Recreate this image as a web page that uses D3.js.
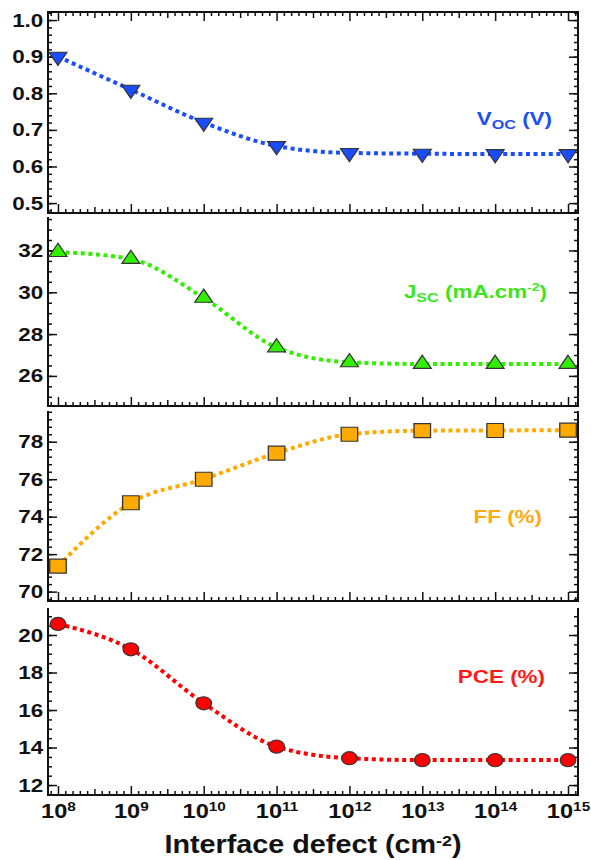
<!DOCTYPE html>
<html>
<head>
<meta charset="utf-8">
<script src="https://cdn.jsdelivr.net/npm/d3@7"></script>
<style>
body{margin:0;background:#fff}
svg text{font-family:"Liberation Sans",Arial,sans-serif;font-weight:bold}
</style>
</head>
<body>
<svg id="chart" width="591" height="860"></svg>
<script>
// values
var defect = [1e8, 1e9, 1e10, 1e11, 1e12, 1e13, 1e14, 1e15];
var voc = [0.900, 0.810, 0.720, 0.656, 0.637, 0.635, 0.634, 0.634];
var jsc = [31.92, 31.59, 29.73, 27.36, 26.65, 26.57, 26.57, 26.57];
var ff  = [71.36, 74.74, 76.00, 77.39, 78.40, 78.59, 78.60, 78.62];
var pce = [20.59, 19.24, 16.36, 14.05, 13.43, 13.33, 13.33, 13.33];

var vocTicks = [0.5, 0.6, 0.7, 0.8, 0.9, 1.0];
var jscTicks = [26, 28, 30, 32];
var ffTicks  = [70, 72, 74, 76, 78];
var pceTicks = [12, 14, 16, 18, 20];

var vocLabel = [['V', ''], ['OC', 'sub'], [' (V)', '']];
var jscLabel = [['J', ''], ['SC', 'sub'], [' (mA.cm', ''], ['-2', 'sup'], [')', '']];
var ffLabel  = [['FF (%)', '']];
var pceLabel = [['PCE (%)', '']];
var xTitle   = [['Interface defect (cm', ''], ['-2', 'sup'], [')', '']];

var svg = d3.select('#chart');
var left = 48, right = 578;
var sx = 1.18; // the whole picture is a bit stretched sideways

var x = d3.scaleLog()
	.domain([Math.pow(10, 7.863), Math.pow(10, 15.137)])
	.range([left, right]);

// evenly spaced minor ticks between decades
var xMinor = [], xMid = [];
for (var e = 7; e <= 15; e++) {
	for (var k = 1; k <= 9; k++) {
		var v = Math.pow(10, e + k / 10);
		if (v < x.domain()[0] || v > x.domain()[1]) continue;
		if (k == 5) xMid.push(v); else xMinor.push(v);
	}
}

var panels = [
	{vals: voc, ticks: vocTicks, minor: 0.02, fmt: d3.format('.1f'), domain: [0.473, 1.022],
	 top: 12, bottom: 213, topLine: true, color: '#1a4dff', text: '#1f4ff0', shape: 'down',
	 label: vocLabel, lx: 552, ly: 125, xLabels: false},
	{vals: jsc, ticks: jscTicks, minor: 0.5, fmt: d3.format('d'), domain: [24.56, 33.6],
	 top: 217, bottom: 406, topLine: false, color: '#33ee00', text: '#3ee51c', shape: 'up',
	 label: jscLabel, lx: 547, ly: 298, xLabels: false},
	{vals: ff, ticks: ffTicks, minor: 0.4, fmt: d3.format('d'), domain: [69.5, 79.64],
	 top: 411, bottom: 601, topLine: false, color: '#ffaa00', text: '#ffaa11', shape: 'square',
	 label: ffLabel, lx: 542, ly: 523, xLabels: false},
	{vals: pce, ticks: pceTicks, minor: 0.5, fmt: d3.format('d'), domain: [11.47, 21.44],
	 top: 608, bottom: 795, topLine: false, color: '#ff0000', text: '#ff1a1a', shape: 'circle',
	 label: pceLabel, lx: 545, ly: 683, xLabels: true}
];

function styleTicks(a){
	a.select('.domain').remove();
	a.selectAll('line').attr('stroke', '#111').attr('stroke-width', 1.5);
}

function addSpans(t, parts, size){
	parts.forEach(function(p){
		var s = t.append('tspan').text(p[0]);
		if (p[1] == 'sub') s.attr('font-size', size * 0.72).attr('dy', 4);
		else if (p[1] == 'sup') s.attr('font-size', size * 0.62).attr('dy', -7);
		else s.attr('dy', 0);
	});
	// put baseline back after sub/sup
	var prev = 0;
	t.selectAll('tspan').each(function(){
		var dy = +d3.select(this).attr('dy');
		d3.select(this).attr('dy', dy - prev);
		prev = dy;
	});
}

function drawPanel(p){
	var y = d3.scaleLinear().domain(p.domain).range([p.bottom, p.top]);
	var g = svg.append('g');

	var lo = Math.ceil(p.domain[0] / p.minor - 1e-6), hi = Math.floor(p.domain[1] / p.minor + 1e-6);
	var yMinor = d3.range(lo, hi + 1).map(function(i){ return +(i * p.minor).toFixed(4); });

	// left + right
	g.append('g').attr('transform', 'translate(' + left + ',0)')
		.call(d3.axisLeft(y).tickValues(yMinor).tickSize(-4).tickFormat('')).call(styleTicks);
	g.append('g').attr('transform', 'translate(' + right + ',0)')
		.call(d3.axisRight(y).tickValues(yMinor).tickSize(-4).tickFormat('')).call(styleTicks);
	g.append('g').attr('transform', 'translate(' + right + ',0)')
		.call(d3.axisRight(y).tickValues(p.ticks).tickSize(-9).tickFormat('')).call(styleTicks);
	var yl = g.append('g').attr('transform', 'translate(' + left + ',0)')
		.call(d3.axisLeft(y).tickValues(p.ticks).tickSize(-9).tickPadding(4).tickFormat(p.fmt))
		.call(styleTicks);
	yl.selectAll('text').attr('font-size', 19).attr('fill', '#111')
		.attr('transform', 'scale(' + sx + ',1)');

	// bottom (and top) x ticks
	var edges = [[p.bottom, d3.axisBottom]];
	if (p.topLine) edges.push([p.top, d3.axisTop]);
	edges.forEach(function(ed){
		var mk = ed[1];
		g.append('g').attr('transform', 'translate(0,' + ed[0] + ')')
			.call(mk(x).tickValues(xMinor).tickSize(-4).tickFormat('')).call(styleTicks);
		g.append('g').attr('transform', 'translate(0,' + ed[0] + ')')
			.call(mk(x).tickValues(xMid).tickSize(-6).tickFormat('')).call(styleTicks);
		var ax = g.append('g').attr('transform', 'translate(0,' + ed[0] + ')')
			.call(mk(x).tickValues(defect).tickSize(-9).tickPadding(9).tickFormat(''))
			.call(styleTicks);
		if (p.xLabels && mk === d3.axisBottom) {
			ax.selectAll('.tick text').each(function(d){
				var t = d3.select(this).attr('font-size', 20).attr('fill', '#111')
					.attr('transform', 'scale(' + sx + ',1)');
				t.append('tspan').text('10');
				t.append('tspan').text(Math.round(Math.log10(d))).attr('font-size', 13).attr('dy', -7);
			});
		}
	});

	// frame
	var fr = g.append('g').attr('stroke', '#111').attr('stroke-width', 2).attr('fill', 'none');
	fr.append('line').attr('x1', left).attr('x2', left).attr('y1', p.top).attr('y2', p.bottom);
	fr.append('line').attr('x1', right).attr('x2', right).attr('y1', p.top).attr('y2', p.bottom);
	fr.append('line').attr('x1', left - 1).attr('x2', right + 1).attr('y1', p.bottom).attr('y2', p.bottom);
	if (p.topLine) fr.append('line').attr('x1', left - 1).attr('x2', right + 1).attr('y1', p.top).attr('y2', p.top);

	// dotted curve
	var line = d3.line()
		.x(function(d, i){ return x(defect[i]); })
		.y(function(d){ return y(d); })
		.curve(d3.curveMonotoneX);
	g.append('path').datum(p.vals)
		.attr('d', line)
		.attr('fill', 'none')
		.attr('stroke', p.color)
		.attr('stroke-width', 4)
		.attr('stroke-dasharray', '4,3.6');

	// markers, widened like the rest of the picture
	var sym = d3.symbol()
		.type(p.shape == 'circle' ? d3.symbolCircle : p.shape == 'square' ? d3.symbolSquare : d3.symbolTriangle)
		.size(p.shape == 'circle' ? 136 : p.shape == 'square' ? 196 : 100);
	g.selectAll('path.mark').data(p.vals).enter()
		.append('path')
			.attr('class', 'mark')
			.attr('d', sym)
			.attr('transform', function(d, i){
				return 'translate(' + x(defect[i]) + ',' + y(d) + ') scale(' + sx + ',1)' + (p.shape == 'down' ? ' rotate(180)' : '');
			})
			.attr('fill', p.color)
			.attr('stroke', '#333')
			.attr('stroke-width', 1.1);

	// series label
	var t = g.append('text')
		.attr('text-anchor', 'end')
		.attr('font-size', 19)
		.attr('fill', p.text)
		.attr('transform', 'translate(' + p.lx + ',' + p.ly + ') scale(' + sx + ',1)');
	addSpans(t, p.label, 19);
}

panels.forEach(drawPanel);

var xt = svg.append('text')
	.attr('text-anchor', 'middle')
	.attr('font-size', 25)
	.attr('fill', '#111')
	.attr('transform', 'translate(313,853) scale(' + 1.15 + ',1)');
addSpans(xt, xTitle, 25);
</script>
</body>
</html>
